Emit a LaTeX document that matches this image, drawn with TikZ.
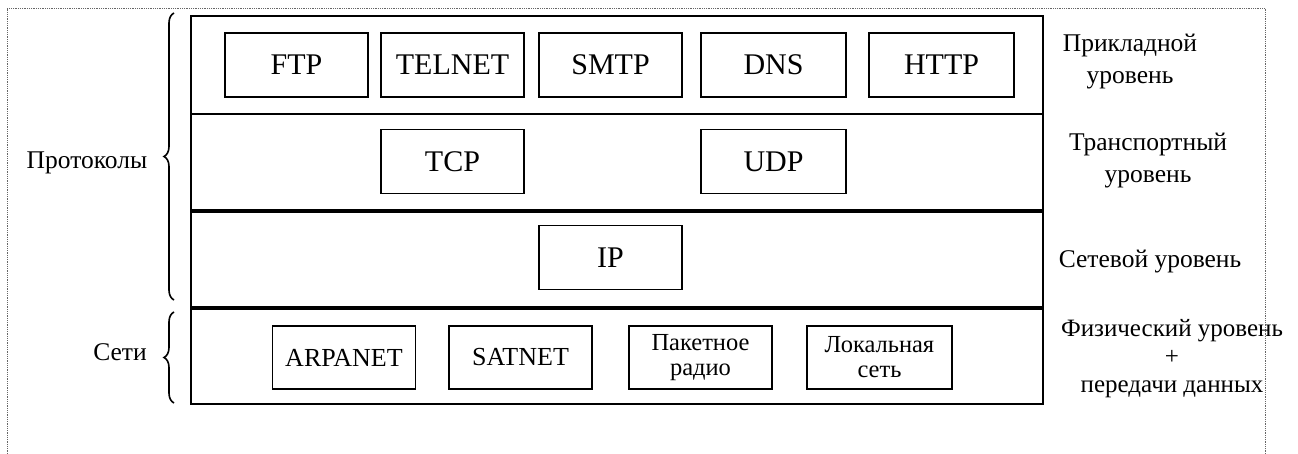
\documentclass[tikz,border=0pt]{standalone}
\usepackage{fontspec}
\setmainfont{Liberation Serif}
\usetikzlibrary{decorations.pathreplacing}
\begin{document}
\begin{tikzpicture}[x=1pt,y=-1pt,
  proto/.style={draw, line width=1.6pt, minimum width=143pt, minimum height=64pt, inner sep=0pt, font=\fontsize{30}{31}\selectfont},
  net/.style={draw, line width=1.6pt, minimum width=143pt, minimum height=63pt, inner sep=0pt, align=center, font=\fontsize{24.5}{25}\selectfont},
  side/.style={inner sep=0pt, align=center, font=\fontsize{25.5}{32}\selectfont},
  frame/.style={draw=black!60, line width=0.8pt, densely dotted},
  layer/.style={line width=1.8pt},
  thick sep/.style={line width=3.6pt},
  bracestyle/.style={decorate, decoration={brace, amplitude=10pt}, line width=1.6pt}]
\useasboundingbox (0,0) rectangle (1298,454);
% dotted frame
\coordinate (f1) at (7,454);
\coordinate (f2) at (7,8);
\coordinate (f3) at (1265,8);
\coordinate (f4) at (1265,454);
\draw[frame] (f1) -- (f2) -- (f3) -- (f4);
% outer stack
\coordinate (tl) at (191,16);
\coordinate (br) at (1043,404);
\draw[layer] (tl) rectangle (br);
\coordinate (s1l) at (191,114); \coordinate (s1r) at (1043,114);
\coordinate (s2l) at (191,211); \coordinate (s2r) at (1043,211);
\coordinate (s3l) at (191,308); \coordinate (s3r) at (1043,308);
\draw[layer] (s1l) -- (s1r);
\draw[thick sep] (s2l) -- (s2r);
\draw[thick sep] (s3l) -- (s3r);
% application layer
\node[proto] (ftp) at (296.5,65) {FTP};
\node[proto] (telnet) at (452.5,65) {TELNET};
\node[proto] (smtp) at (610.5,65) {SMTP};
\node[proto, minimum width=145pt] (dns) at (773.5,65) {DNS};
\node[proto, minimum width=145pt] (http) at (941.5,65) {HTTP};
% transport layer
\node[proto] (tcp) at (452.5,161.5) {TCP};
\node[proto, minimum width=145pt] (udp) at (773.5,161.5) {UDP};
% network layer
\node[proto] (ip) at (610.5,257.5) {IP};
% physical
\node[net, font=\fontsize{26}{30}\selectfont] (arpanet) at (344,357.5) {ARPANET};
\node[net, font=\fontsize{26}{30}\selectfont] (satnet) at (520.5,357.5) {SATNET};
\node[net] (radio) at (700.5,357.5) {Пакетное\\радио};
\node[net, minimum width=145pt] (lan) at (879.5,357.5) {Локальная\\сеть};
% right labels
\node[side] (app) at (1130,62) {Прикладной\\уровень};
\node[side] (trans) at (1148,161) {Транспортный\\уровень};
\node[side] (netl) at (1150,262) {Сетевой уровень};
\node[side, font=\fontsize{25}{28}\selectfont] (phys) at (1172,359) {Физический уровень\\+\\передачи данных};
% left labels and braces
\node[side] (protocols) at (87,163) {Протоколы};
\node[side] (nets) at (120,352) {Сети};
\coordinate (b1b) at (174,300);
\coordinate (b1t) at (174,13);
\coordinate (b2b) at (174,403);
\coordinate (b2t) at (174,312);
\draw[bracestyle] (b1b) -- (b1t);
\draw[bracestyle] (b2b) -- (b2t);
\end{tikzpicture}
\end{document}
